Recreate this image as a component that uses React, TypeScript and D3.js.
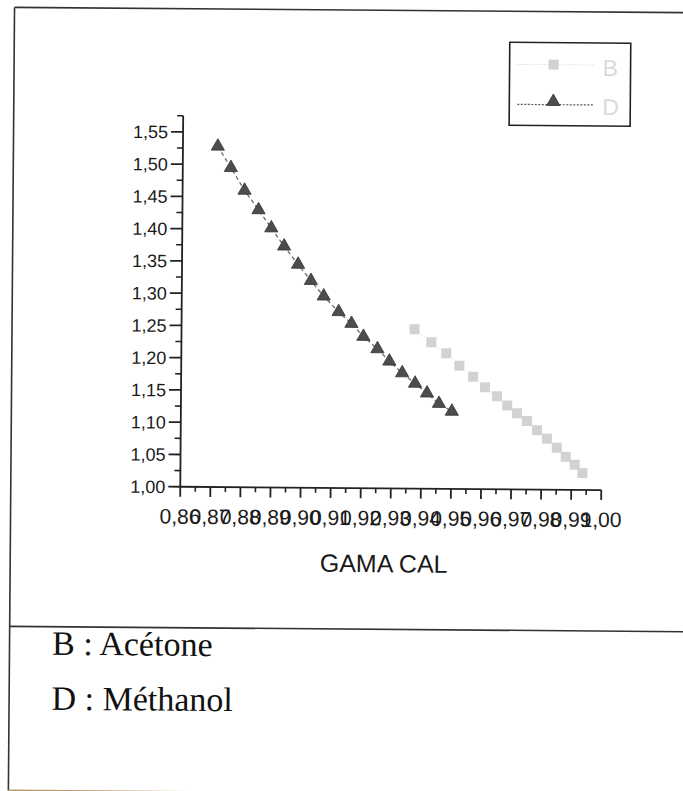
import React from "react";
import * as d3 from "d3";

// Acétone (B) series: GAMA CAL vs value
const acetoneX = [0.9375, 0.9431, 0.9481, 0.9525, 0.9571, 0.9611, 0.9651, 0.9685, 0.9718, 0.9751, 0.9785, 0.9818, 0.9851, 0.9881, 0.9911, 0.9937];
const acetoneY = [1.247, 1.227, 1.21, 1.191, 1.174, 1.158, 1.144, 1.13, 1.118, 1.106, 1.092, 1.079, 1.065, 1.051, 1.039, 1.026];

// Méthanol (D) series
const methanolX = [0.8716, 0.876, 0.8806, 0.8853, 0.8896, 0.8939, 0.8986, 0.9029, 0.9072, 0.9122, 0.9165, 0.9205, 0.9252, 0.9292, 0.9335, 0.9378, 0.9418, 0.9458, 0.9501];
const methanolY = [1.528, 1.495, 1.46, 1.43, 1.402, 1.374, 1.346, 1.321, 1.297, 1.273, 1.255, 1.235, 1.216, 1.197, 1.179, 1.163, 1.148, 1.132, 1.12];

const xTicks = [0.86, 0.87, 0.88, 0.89, 0.9, 0.91, 0.92, 0.93, 0.94, 0.95, 0.96, 0.97, 0.98, 0.99, 1.0];
const yTicks = [1.0, 1.05, 1.1, 1.15, 1.2, 1.25, 1.3, 1.35, 1.4, 1.45, 1.5, 1.55];
const xTitle = "GAMA CAL";
const legendNames = ["B", "D"];
const notes = ["B : Acétone", "D : Méthanol"];

const W = 683;
const H = 791;

export default function App() {
  const x = d3.scaleLinear().domain([0.86, 1.0]).range([181, 602]);
  const y = d3.scaleLinear().domain([1.0, 1.575]).range([488, 117]);
  const fmt = (v: number) => d3.format(".2f")(v).replace(".", ",");

  const xMinor = d3.range(xTicks.length - 1).map((i) => (xTicks[i] + xTicks[i + 1]) / 2);
  const yMinor = [...d3.range(yTicks.length - 1).map((i) => (yTicks[i] + yTicks[i + 1]) / 2), 1.575];

  const acetone = acetoneX.map((v, i) => [v, acetoneY[i]] as [number, number]);
  const methanol = methanolX.map((v, i) => [v, methanolY[i]] as [number, number]);
  const line = d3.line<[number, number]>().x((d) => x(d[0])).y((d) => y(d[1]));
  const tri = d3.symbol().type(d3.symbolTriangle).size(76)() as string;
  const sq = 10;

  const sans = "'Liberation Sans', Arial, sans-serif";
  const serif = "'Liberation Serif', 'Times New Roman', serif";

  return (
    <svg width={W} height={H} style={{ position: "absolute", left: 0, top: 0, background: "#fff" }}>
      <g transform="rotate(0.45 341 395)">
        {/* page frame */}
        <line x1={11.5} y1={10} x2={700} y2={10} stroke="#333" strokeWidth={1.6} />
        <line x1={11.5} y1={10} x2={11.5} y2={793} stroke="#333" strokeWidth={1.6} />
        <line x1={11.5} y1={629} x2={700} y2={629} stroke="#333" strokeWidth={1.6} />
        <line x1={11.5} y1={793} x2={700} y2={793} stroke="#b89a6a" strokeWidth={1.6} />

        {/* x axis */}
        <line x1={x(0.86)} y1={y(1)} x2={x(1)} y2={y(1)} stroke="#222" strokeWidth={1.8} />
        {xTicks.map((t) => (
          <g key={"xt" + t}>
            <line x1={x(t)} x2={x(t)} y1={y(1)} y2={y(1) + 10} stroke="#222" strokeWidth={1.8} />
            <text x={x(t)} y={525} textAnchor="middle" fontFamily={sans} fontSize={21} fill="#1a1a1a">
              {fmt(t)}
            </text>
          </g>
        ))}
        {xMinor.map((t) => (
          <line key={"xm" + t} x1={x(t)} x2={x(t)} y1={y(1)} y2={y(1) + 5} stroke="#222" strokeWidth={1.6} />
        ))}
        <text x={385} y={572} textAnchor="middle" fontFamily={sans} fontSize={25} fill="#1a1a1a">
          {xTitle}
        </text>

        {/* y axis */}
        <line x1={x(0.86)} y1={y(1)} x2={x(0.86)} y2={y(1.575)} stroke="#222" strokeWidth={1.8} />
        {yTicks.map((t) => (
          <g key={"yt" + t}>
            <line x1={x(0.86) - 12} x2={x(0.86)} y1={y(t)} y2={y(t)} stroke="#222" strokeWidth={1.8} />
            <text x={166} y={y(t)} dy="0.36em" textAnchor="end" fontFamily={sans} fontSize={18} fill="#1a1a1a">
              {fmt(t)}
            </text>
          </g>
        ))}
        {yMinor.map((t) => (
          <line key={"ym" + t} x1={x(0.86) - 6} x2={x(0.86)} y1={y(t)} y2={y(t)} stroke="#222" strokeWidth={1.6} />
        ))}

        {/* Acétone series */}
        <path d={line(acetone) || ""} fill="none" stroke="#dcdcdc" strokeWidth={1} strokeDasharray="1,2" />
        {acetone.map((d, i) => (
          <rect key={"b" + i} x={x(d[0]) - sq / 2} y={y(d[1]) - sq / 2} width={sq} height={sq} fill="#d2d2d5" />
        ))}

        {/* Méthanol series */}
        <path d={line(methanol) || ""} fill="none" stroke="#6a6a6a" strokeWidth={1.3} strokeDasharray="4,3" />
        {methanol.map((d, i) => (
          <path key={"d" + i} d={tri} transform={`translate(${x(d[0])},${y(d[1])})`} fill="#4d4d4d" stroke="#333" strokeWidth={0.8} />
        ))}

        {/* legend */}
        <rect x={507} y={41} width={121} height={83} fill="#fff" stroke="#222" strokeWidth={1.6} />
        <line x1={515} x2={592} y1={63} y2={63} stroke="#cfcfcf" strokeWidth={1} strokeDasharray="1,2" />
        <rect x={551 - sq / 2} y={63 - sq / 2} width={sq} height={sq} fill="#d2d2d5" />
        <text x={600} y={74} fontFamily={sans} fontSize={23} fill="#dadada">
          {legendNames[0]}
        </text>
        <line x1={515} x2={592} y1={103} y2={103} stroke="#555" strokeWidth={1.2} strokeDasharray="2,1.5" />
        <path d={tri} transform="translate(551,100)" fill="#4d4d4d" stroke="#333" strokeWidth={0.8} />
        <text x={600} y={113} fontFamily={sans} fontSize={23} fill="#dadada">
          {legendNames[1]}
        </text>

        {/* solvent notes */}
        <text x={54} y={657} fontFamily={serif} fontSize={34} fill="#111">
          {notes[0]}
        </text>
        <text x={54} y={712} fontFamily={serif} fontSize={34} fill="#111">
          {notes[1]}
        </text>
      </g>
    </svg>
  );
}
